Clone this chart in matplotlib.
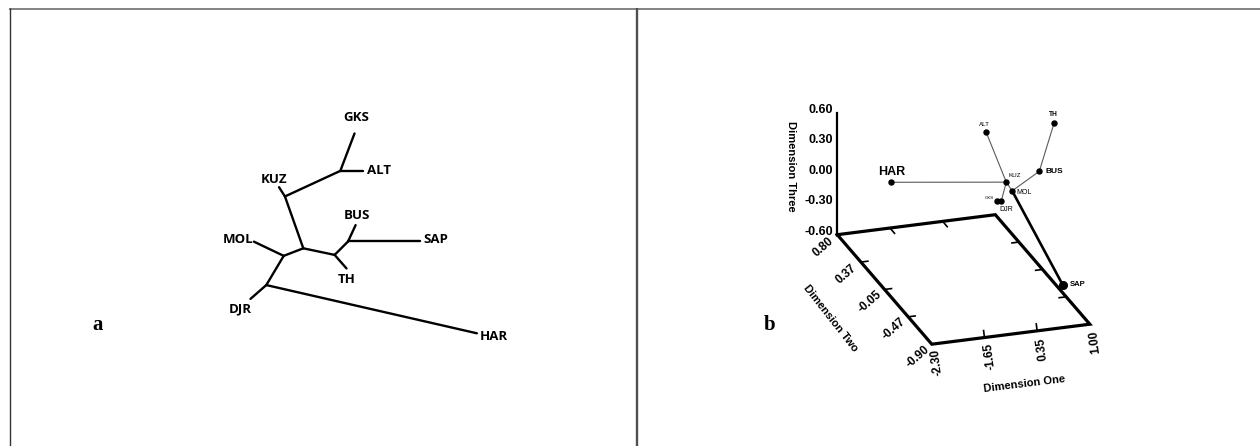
import numpy as np
import matplotlib
matplotlib.use("Agg")
import matplotlib.pyplot as plt

# ---------------- data ----------------
# (a) unrooted tree: edges as parent -> child with branch length and drawing angle
tree_parent = ["N3", "N2", "N2", "N1", "N1", "N3", "N4", "N4", "N5", "N5", "N3", "N6", "N6", "N7", "N7"]
tree_child = ["N2", "KUZ", "N1", "GKS", "ALT", "N4", "MOL", "N5", "DJR", "HAR", "N6", "TH", "N7", "BUS", "SAP"]
branch_length = [0.055, 0.011, 0.061, 0.040, 0.023, 0.021, 0.033, 0.034, 0.021, 0.216,
                 0.032, 0.018, 0.019, 0.018, 0.072]
branch_angle = [109.5, 122.5, 24.8, 69.2, 0.0, 201.1, 154.5, 239.2, 221.2, 347.1,
                348.1, 311.3, 45.0, 65.2, 0.0]

# (b) three-dimensional MDS configuration
pops = ["HAR", "ALT", "TH", "KUZ", "BUS", "MOL", "GKS", "DJR", "SAP"]
dim_one = [-2.28, 0.30, 0.95, 0.15, 0.70, 0.40, 0.10, 0.15, 0.98]
dim_two = [-0.14, 0.36, -0.30, -0.13, -0.25, -0.02, 0.00, -0.04, -0.43]
dim_three = [0.51, 0.53, 1.00, 0.36, 0.51, 0.19, 0.10, 0.12, -0.51]
links = [("HAR", "KUZ"), ("ALT", "KUZ"), ("KUZ", "DJR"), ("GKS", "DJR"),
         ("KUZ", "MOL"), ("MOL", "BUS"), ("BUS", "TH")]
heavy_links = [("MOL", "SAP")]

dim_one_range = (-2.30, 1.00)
dim_two_range = (-0.90, 0.80)
dim_three_range = (-0.60, 0.60)
dim_one_labels = ["-2.30", "-1.65", "0.35", "1.00"]
dim_two_labels = ["0.80", "0.37", "-0.05", "-0.47", "-0.90"]
dim_three_labels = ["0.60", "0.30", "0.00", "-0.30", "-0.60"]

# ---------------- figure ----------------
W, H = 1260, 446
fig = plt.figure(figsize=(W / 100, H / 100), dpi=100)
ax = fig.add_axes([0, 0, 1, 1])
ax.set_xlim(0, W)
ax.set_ylim(H, 0)
ax.axis("off")

# panel frame
ax.plot([9, W], [8.5, 8.5], color="#7a7a7a", lw=1.3, solid_capstyle="butt")
ax.plot([9.5, 9.5], [8, H], color="#333333", lw=1.0, solid_capstyle="butt")
ax.plot([636.5, 636.5], [8, H], color="#505050", lw=1.7, solid_capstyle="butt")

SANS = ["Liberation Sans", "DejaVu Sans"]

# ---------------- (a) tree ----------------
scale = 1000.0  # pixels per branch-length unit
root_px = (303.3, 248.3)
axa = fig.add_axes([0, 0, 1, 1])
axa.set_xlim(-root_px[0] / scale, (W - root_px[0]) / scale)
axa.set_ylim(-(H - root_px[1]) / scale, root_px[1] / scale)
axa.axis("off")
axa.patch.set_alpha(0)

pos = {"N3": np.array([0.0, 0.0])}
for p, c, L, ang in zip(tree_parent, tree_child, branch_length, branch_angle):
    t = np.deg2rad(ang)
    pos[c] = pos[p] + L * np.array([np.cos(t), np.sin(t)])
    axa.plot([pos[p][0], pos[c][0]], [pos[p][1], pos[c][1]], color="black",
             lw=1.7, solid_capstyle="round")

tip_label_style = {
    "GKS": ((2, 9), "center", "bottom"),
    "ALT": ((4, 0), "left", "center"),
    "KUZ": ((-5, 8), "center", "center"),
    "MOL": ((-1, 2), "right", "center"),
    "DJR": ((-10, -10), "center", "center"),
    "HAR": ((3, -3), "left", "center"),
    "TH": ((0, -11), "center", "center"),
    "BUS": ((1, 10), "center", "center"),
    "SAP": ((3, 2), "left", "center"),
}
for name, (off, ha, va) in tip_label_style.items():
    axa.annotate(name, pos[name], xytext=off, textcoords="offset pixels",
                 ha=ha, va=va, fontsize=9.5, fontweight="bold",
                 family=["Open Sans", "DejaVu Sans"])

ax.text(98, 325, "a", ha="center", va="center", fontsize=15, fontweight="bold",
        family=["Liberation Serif", "DejaVu Serif"])
ax.text(770, 325, "b", ha="center", va="center", fontsize=15, fontweight="bold",
        family=["Liberation Serif", "DejaVu Serif"])

# ---------------- (b) 3-D configuration ----------------
O = np.array([837.3, 234.7])
E1 = np.array([158.0, -20.0])
E2 = np.array([94.5, 109.5])
E3 = np.array([0.0, -122.0])


def project(x, y, z):
    a = (np.asarray(x, float) - dim_one_range[0]) / (dim_one_range[1] - dim_one_range[0])
    b = (dim_two_range[1] - np.asarray(y, float)) / (dim_two_range[1] - dim_two_range[0])
    c = (np.asarray(z, float) - dim_three_range[0]) / (dim_three_range[1] - dim_three_range[0])
    return (O[0] + a * E1[0] + b * E2[0] + c * E3[0],
            O[1] + a * E1[1] + b * E2[1] + c * E3[1])


x0, x1 = dim_one_range
y0, y1 = dim_two_range
z0, z1 = dim_three_range

# floor
fx, fy = project([x0, x1, x1, x0, x0], [y1, y1, y0, y0, y1], [z0] * 5)
ax.plot(fx, fy, color="black", lw=2.3, solid_joinstyle="miter")
# vertical axis
vx, vy = project([x0, x0], [y1, y1], [z0, z1])
ax.plot(vx, vy, color="black", lw=1.6)

u1 = E1 / np.linalg.norm(E1)
u2 = E2 / np.linalg.norm(E2)
up_front = np.array([u1[1], -u1[0]])  # perpendicular to the front edge, towards the back
tick_len = 7

# dimension one ticks (front and back edges) and labels
d1_ticks = np.linspace(x0, x1, len(dim_one_labels))
for i, (v, lab) in enumerate(zip(d1_ticks, dim_one_labels)):
    px, py = project(v, y0, z0)
    bx, by = project(v, y1, z0)
    if 0 < i < len(d1_ticks) - 1:
        ax.plot([px, px + up_front[0] * tick_len], [py, py + up_front[1] * tick_len],
                color="black", lw=1.2)
        ax.plot([bx, bx + u2[0] * tick_len], [by, by + u2[1] * tick_len],
                color="black", lw=1.2)
    ax.text(px + 5, py + 18, lab, rotation=97, ha="center", va="center",
            fontsize=8.5, fontweight="bold", family=SANS)

# dimension two ticks (left and right edges) and labels
d2_ticks = np.linspace(y1, y0, len(dim_two_labels))
out_left = np.array([-u2[1], u2[0]])
for i, (v, lab) in enumerate(zip(d2_ticks, dim_two_labels)):
    lx, ly = project(x0, v, z0)
    rx, ry = project(x1, v, z0)
    if 0 < i < len(d2_ticks) - 1:
        ax.plot([lx, lx + u1[0] * tick_len], [ly, ly + u1[1] * tick_len],
                color="black", lw=1.2)
        ax.plot([rx, rx - u1[0] * tick_len], [ry, ry - u1[1] * tick_len],
                color="black", lw=1.2)
    ax.text(lx + out_left[0] * 19, ly + out_left[1] * 19, lab, rotation=41,
            ha="center", va="center", fontsize=8.5, fontweight="bold", family=SANS)

# dimension three labels
d3_ticks = np.linspace(z1, z0, len(dim_three_labels))
for v, lab in zip(d3_ticks, dim_three_labels):
    tx, ty = project(x0, y1, v)
    ax.text(tx - 4, ty - 3, lab, ha="right", va="center", fontsize=9,
            fontweight="bold", family=SANS)

ax.text(790.7, 166.7, "Dimension Three", rotation=-90, ha="center", va="center",
        fontsize=8, fontweight="bold", family=SANS)
ax.text(830.5, 318, "Dimension Two", rotation=-52, ha="center", va="center",
        fontsize=8, fontweight="bold", family=SANS)
ax.text(1024, 384, "Dimension One", rotation=7, ha="center", va="center",
        fontsize=8, fontweight="bold", family=SANS)

# points and connections
P = {n: project(a, b, c) for n, a, b, c in zip(pops, dim_one, dim_two, dim_three)}
for a_, b_ in links:
    ax.plot([P[a_][0], P[b_][0]], [P[a_][1], P[b_][1]], color="#5a5a5a", lw=0.8)
for a_, b_ in heavy_links:
    ax.plot([P[a_][0], P[b_][0]], [P[a_][1], P[b_][1]], color="black", lw=1.9)
for n in pops:
    ms = 5.5 if n == "SAP" else 3.6
    ax.plot(*P[n], "o", color="black", ms=ms, mec="black")

point_label_style = {
    "HAR": ((1, -10), "center", 9, "bold"),
    "ALT": ((-2, -7.5), "center", 4.5, "normal"),
    "TH": ((-1, -8.5), "center", 4.8, "bold"),
    "KUZ": ((8, -7), "center", 4.5, "normal"),
    "BUS": ((6, 0), "left", 6, "bold"),
    "MOL": ((4.5, 1.5), "left", 5, "normal"),
    "GKS": ((-3, -2.5), "right", 3.2, "normal"),
    "DJR": ((5, 8.5), "center", 5, "normal"),
    "SAP": ((7, -0.5), "left", 5.5, "bold"),
}
for n, ((dx, dy), ha, fs, fw) in point_label_style.items():
    ax.text(P[n][0] + dx, P[n][1] + dy, n, ha=ha, va="center", fontsize=fs,
            fontweight=fw, family=SANS, color="black")

fig.savefig("out.png", dpi=100)
